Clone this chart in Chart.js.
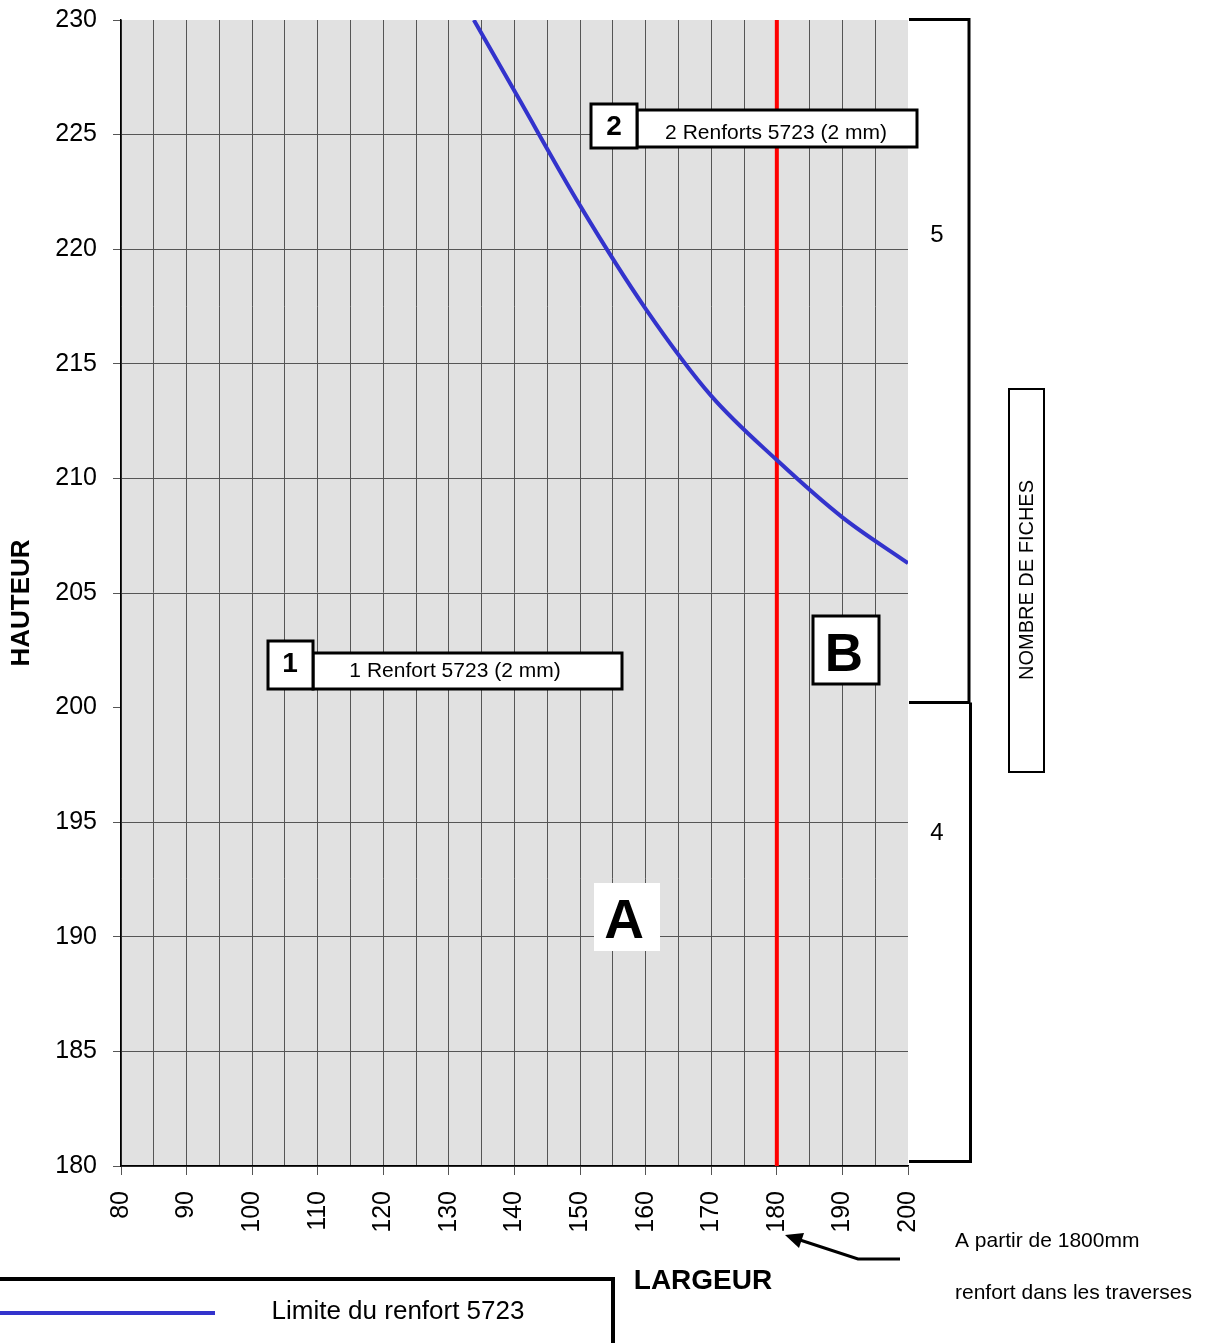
<!DOCTYPE html>
<html lang="fr">
<head>
<meta charset="UTF-8">
<title>Limite du renfort 5723</title>
<script src="https://cdn.jsdelivr.net/npm/chart.js"></script>
<style>
  body { margin: 0; background: #fff; }
  #abaque { display: block; }
</style>
</head>
<body>
<canvas id="abaque" width="1207" height="1343"></canvas>
<script>
const largeurs = [133.8, 140, 150, 160, 170, 180, 190, 200];
const hauteurs = [230, 226.9, 221.9, 217.4, 213.6, 210.8, 208.3, 206.3];
// limite verticale : renfort dans les traverses à partir de 1800 mm
const largeurTraverse = 180;
const hauteurMin = 180, hauteurMax = 230;
const largeurMin = 80, largeurMax = 200;

const police = '"Liberation Sans", Arial, sans-serif';

function cadre(ctx, x, y, w, h, ep) {
  ctx.fillStyle = '#fff';
  ctx.fillRect(x, y, w, h);
  ctx.lineWidth = ep;
  ctx.strokeStyle = '#000';
  ctx.strokeRect(x, y, w, h);
}

function texte(ctx, t, x, y, taille, gras, align) {
  ctx.fillStyle = '#000';
  ctx.font = (gras ? 'bold ' : '') + taille + 'px ' + police;
  ctx.textAlign = align || 'center';
  ctx.textBaseline = 'middle';
  ctx.fillText(t, x, y);
}

function trait(ctx, pts, ep, coul) {
  ctx.beginPath();
  ctx.moveTo(pts[0][0], pts[0][1]);
  for (let i = 1; i < pts.length; i++) ctx.lineTo(pts[i][0], pts[i][1]);
  ctx.lineWidth = ep;
  ctx.strokeStyle = coul || '#000';
  ctx.stroke();
}

const fond = {
  id: 'fond',
  beforeDraw(chart) {
    const { ctx, chartArea: a } = chart;
    ctx.save();
    ctx.fillStyle = '#fff';
    ctx.fillRect(0, 0, chart.width, chart.height);
    ctx.fillStyle = '#e1e1e1';
    ctx.fillRect(a.left, a.top, a.right - a.left, a.bottom - a.top);
    ctx.restore();
  }
};

const annotations = {
  id: 'annotations',
  afterDraw(chart) {
    const ctx = chart.ctx;
    ctx.save();

    // cartouche 2
    cadre(ctx, 637, 110, 280, 37, 3);
    cadre(ctx, 591, 104, 46, 44, 3);
    texte(ctx, '2', 614, 127, 28, true);
    texte(ctx, '2 Renforts 5723 (2 mm)', 776, 133, 21);

    // cartouche 1
    cadre(ctx, 313, 653, 309, 36, 3);
    cadre(ctx, 268, 641, 45, 48, 3);
    texte(ctx, '1', 290, 664, 28, true);
    texte(ctx, '1 Renfort 5723 (2 mm)', 455, 671, 21);

    // zones A et B
    cadre(ctx, 813, 616, 66, 68, 3);
    texte(ctx, 'B', 844, 656, 53, true);
    ctx.fillStyle = '#fff';
    ctx.fillRect(594, 883, 66, 68);
    texte(ctx, 'A', 624, 923, 55, true);

    // accolades du nombre de fiches
    trait(ctx, [[909, 19.5], [969, 19.5], [969, 702.5], [909, 702.5]], 3);
    trait(ctx, [[970.5, 702.5], [970.5, 1161.5], [909, 1161.5]], 3);
    texte(ctx, '5', 937, 235, 24);
    texte(ctx, '4', 937, 833, 24);

    ctx.lineWidth = 2;
    ctx.strokeStyle = '#000';
    ctx.strokeRect(1009, 389, 35, 383);
    ctx.save();
    ctx.translate(1027, 580);
    ctx.rotate(-Math.PI / 2);
    texte(ctx, 'NOMBRE DE FICHES', 0, 0, 20);
    ctx.restore();

    // titres des axes
    texte(ctx, 'LARGEUR', 703, 1281, 28, true);
    ctx.save();
    ctx.translate(22, 603);
    ctx.rotate(-Math.PI / 2);
    texte(ctx, 'HAUTEUR', 0, 0, 26, true);
    ctx.restore();

    // renvoi vers 180
    trait(ctx, [[900, 1259], [858, 1259], [800, 1240]], 3);
    ctx.beginPath();
    ctx.moveTo(785, 1235);
    ctx.lineTo(804, 1233);
    ctx.lineTo(799, 1248);
    ctx.closePath();
    ctx.fillStyle = '#000';
    ctx.fill();
    texte(ctx, 'A partir de 1800mm', 955, 1241, 21, false, 'left');
    texte(ctx, 'renfort dans les traverses', 955, 1293, 21, false, 'left');

    // légende
    trait(ctx, [[0, 1279], [613, 1279], [613, 1343]], 4);
    trait(ctx, [[0, 1313], [215, 1313]], 4, '#3333cc');
    texte(ctx, 'Limite du renfort 5723', 398, 1312, 26);

    ctx.restore();
  }
};

const grille = ctx => (ctx.tick && (ctx.tick.value === largeurMax || ctx.tick.value === hauteurMax)) ? 'rgba(0,0,0,0)' : '#555';

new Chart(document.getElementById('abaque'), {
  type: 'scatter',
  data: {
    datasets: [
      {
        label: 'Limite du renfort 5723',
        data: largeurs.map((x, i) => ({ x: x, y: hauteurs[i] })),
        showLine: true,
        borderColor: '#3333cc',
        borderWidth: 4,
        pointRadius: 0,
        cubicInterpolationMode: 'monotone'
      },
      {
        label: 'Renfort dans les traverses',
        data: [{ x: largeurTraverse, y: hauteurMin }, { x: largeurTraverse, y: hauteurMax }],
        showLine: true,
        borderColor: '#ff0000',
        borderWidth: 4,
        pointRadius: 0
      }
    ]
  },
  options: {
    responsive: false,
    animation: false,
    layout: { padding: { top: 20, right: 299, left: 0, bottom: 0 } },
    plugins: { legend: { display: false }, tooltip: { enabled: false } },
    scales: {
      x: {
        type: 'linear',
        min: largeurMin,
        max: largeurMax,
        afterFit: s => { s.height = 177; },
        ticks: {
          stepSize: 5,
          autoSkip: false,
          minRotation: 90,
          maxRotation: 90,
          padding: 16,
          color: '#000',
          font: { family: police, size: 25 },
          callback: v => v % 10 === 0 ? v : ''
        },
        grid: {
          color: grille,
          tickColor: ctx => ctx.tick.value % 10 === 0 ? '#555' : 'rgba(0,0,0,0)',
          tickLength: 9,
          lineWidth: 1
        },
        border: { color: '#000', width: 1.5 }
      },
      y: {
        type: 'linear',
        min: hauteurMin,
        max: hauteurMax,
        afterFit: s => { s.width = 121; s.paddingTop = 0; s.paddingBottom = 0; },
        ticks: {
          stepSize: 5,
          padding: 16,
          color: '#000',
          font: { family: police, size: 25 }
        },
        grid: {
          color: grille,
          tickColor: '#555',
          tickLength: 8,
          lineWidth: 1
        },
        border: { color: '#000', width: 1.5 }
      }
    }
  },
  plugins: [fond, annotations]
});
</script>
</body>
</html>
